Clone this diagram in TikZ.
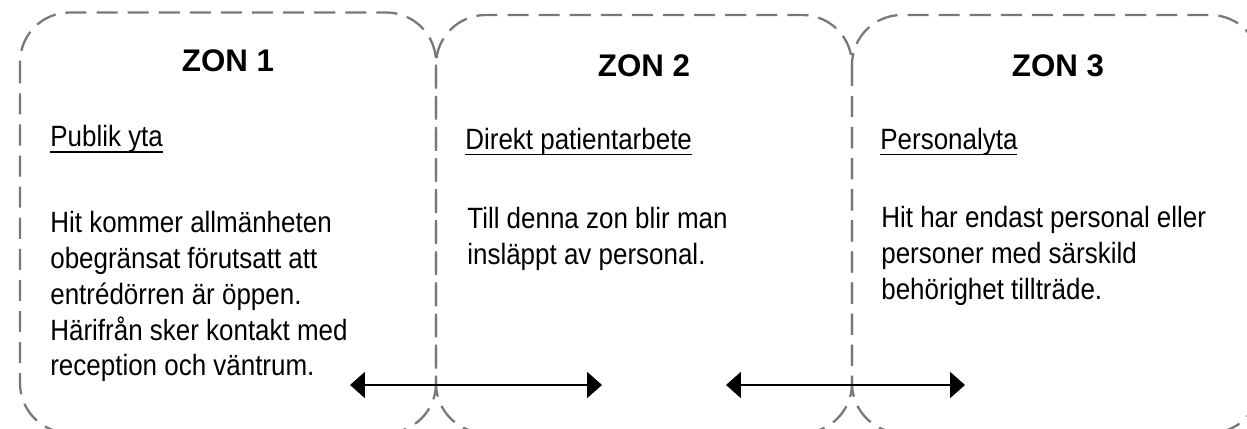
\documentclass[tikz,border=0pt]{standalone}
\usepackage{fontspec}
\setmainfont{Liberation Sans}
\newfontfamily\zonefont[FakeStretch=0.885]{Liberation Sans}
\usetikzlibrary{arrows.meta}
\definecolor{zonegray}{RGB}{120,120,120}

% underline at a fixed depth below the baseline
\newsavebox\zulbox
\newcommand\zul[1]{\sbox\zulbox{#1}\rlap{\rule[-3.4pt]{\wd\zulbox}{1.1pt}}\usebox\zulbox}

\tikzset{
  zone/.style={draw=zonegray, line width=1.3pt, dash pattern=on 12pt off 5.7pt,
    rounded corners=28.3pt},
  title/.style={font=\bfseries\fontsize{17.8}{20}\selectfont, inner sep=0pt, anchor=base},
  sub/.style={font=\zonefont\fontsize{16.7}{20.4}\selectfont, inner sep=0pt, anchor=base west},
  body/.style={sub, align=left, anchor=north west},
  link/.style={{Triangle[length=8.5pt,width=14.7pt]}-{Triangle[length=8.5pt,width=14.7pt]},
    line width=1.5pt}
}

\begin{document}
\begin{tikzpicture}[x=0.02cm, y=-0.02cm]

\clip (0,0) rectangle (1247,429);

% the three zones
\draw[zone] (20,12.5) rectangle (436,433);
\draw[zone] (436,15) rectangle (852,433);
\draw[zone] (852,15) rectangle (1260,433);

\node (z1) [title] at (228,71.7) {ZON 1};
\node (s1) [sub] at (50,147) {\zul{Publik yta}};
\node (t1) [body] at (50,210.9) {Hit kommer allmänheten\\obegränsat förutsatt att\\entrédörren är öppen.\\Härifrån sker kontakt med\\reception och väntrum.};

\node (z2) [title] at (644,76.7) {ZON 2};
\node (s2) [sub] at (465,149.5) {\zul{Direkt patientarbete}};
\node (t2) [body] at (467,207.2) {Till denna zon blir man\\insläppt av personal.};

\node (z3) [title] at (1058,77) {ZON 3};
\node (s3) [sub] at (880,149.5) {\zul{Personalyta}};
\node (t3) [body] at (881,206.2) {Hit har endast personal eller\\personer med särskild\\behörighet tillträde.};

\coordinate (a1) at (350,385);
\coordinate (b1) at (602,385);
\coordinate (a2) at (726,385);
\coordinate (b2) at (965,385);

\path[link]
(a1) edge (b1)
(a2) edge (b2);

\end{tikzpicture}
\end{document}
